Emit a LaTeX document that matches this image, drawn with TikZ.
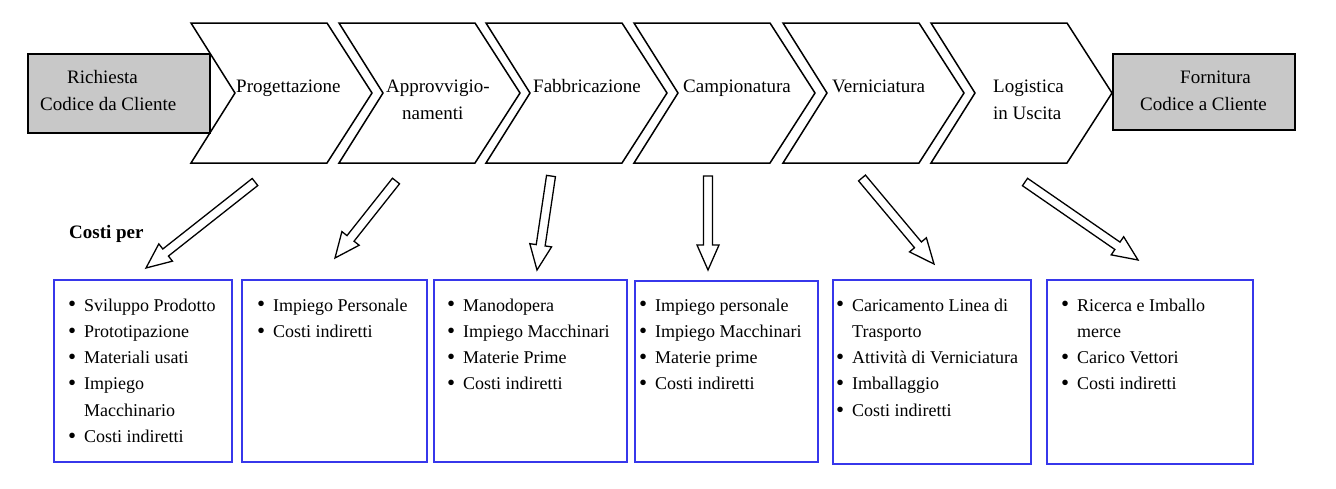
\documentclass[tikz,border=0pt]{standalone}
\usepackage{fontspec}
\setmainfont{Liberation Serif}
\usetikzlibrary{calc}
\definecolor{boxgrey}{RGB}{200,200,200}
\definecolor{listblue}{RGB}{55,55,235}
\newcommand\bul{\llap{\raisebox{-0.8pt}{\fontsize{23}{23}\selectfont\textbullet}\hspace{8pt}}}
\newcommand\chevronat[1]{%
  \draw[chevron] (#1,23) -- ++(136,0) -- ++(45,70) -- ++(-45,70) -- ++(-136,0) -- ++(44,-70) -- cycle;}
\newcommand\blockarr[2]{%
  \draw[blockarrow] ($(#1)!4.5pt!90:(#2)$)
    -- ($(#2)!25pt!(#1)!4.5pt!-90:(#1)$)
    -- ($(#2)!25pt!(#1)!11pt!-90:(#1)$)
    -- (#2)
    -- ($(#2)!25pt!(#1)!11pt!90:(#1)$)
    -- ($(#2)!25pt!(#1)!4.5pt!90:(#1)$)
    -- ($(#1)!4.5pt!-90:(#2)$) -- cycle;}
\tikzset{
  chevron/.style={draw=black, line width=1.5pt, fill=white, line join=miter},
  greybox/.style={draw=black, line width=1.6pt, fill=boxgrey, inner sep=0pt, anchor=north west},
  listbox/.style={draw=listblue, line width=1.6pt, inner sep=0pt, anchor=north west},
  blockarrow/.style={draw=black, line width=1.3pt, fill=white, line join=miter},
  toptext/.style={anchor=base west, inner sep=0pt, font=\fontsize{19}{27.5}\selectfont},
  listtext/.style={anchor=base west, inner sep=0pt, font=\fontsize{18}{26.3}\selectfont},
}
\begin{document}
\begin{tikzpicture}[x=1pt,y=-1pt]
\useasboundingbox (0,0) rectangle (1336,488);
% chevrons
\foreach \s in {191,339,486,634,783,931} {\chevronat{\s}}
% grey boxes
\node[greybox, minimum width=182pt, minimum height=79pt] (src) at (27,53) {};
\node[greybox, minimum width=182pt, minimum height=76pt] (dst) at (1112,53) {};
\node[toptext] (srct) at (40,83) {\begin{tabular}[t]{@{}l@{}}\hspace*{27pt}Richiesta\\Codice da Cliente\end{tabular}};
\node[toptext] (dstt) at (1140,83) {\begin{tabular}[t]{@{}l@{}}\hspace*{40pt}Fornitura\\Codice a Cliente\end{tabular}};
% chevron labels
\node[toptext] (c1) at (236,92) {Progettazione};
\node[toptext] (c2) at (386,92) {\begin{tabular}[t]{@{}l@{}}Approvvigio-\\\hspace*{16pt}namenti\end{tabular}};
\node[toptext] (c3) at (533,92) {Fabbricazione};
\node[toptext] (c4) at (683,92) {Campionatura};
\node[toptext] (c5) at (832,92) {Verniciatura};
\node[toptext] (c6) at (993,92) {\begin{tabular}[t]{@{}l@{}}Logistica\\in Uscita\end{tabular}};
% Costi per
\node[anchor=base west, inner sep=0pt, font=\fontsize{19}{23}\selectfont\bfseries] (cp) at (69,238) {Costi per};
% list boxes
\node[listbox, minimum width=178pt, minimum height=182pt] (b1) at (53,279) {};
\node[listbox, minimum width=185pt, minimum height=182pt] (b2) at (241,279) {};
\node[listbox, minimum width=193pt, minimum height=182pt] (b3) at (433,279) {};
\node[listbox, minimum width=183pt, minimum height=181pt] (b4) at (634,280) {};
\node[listbox, minimum width=198pt, minimum height=184pt] (b5) at (832,279) {};
\node[listbox, minimum width=206pt, minimum height=184pt] (b6) at (1046,279) {};
% list texts
\node[listtext] (l1) at (84,311) {\begin{tabular}[t]{@{}l@{}}\bul Sviluppo Prodotto\\\bul Prototipazione\\\bul Materiali usati\\\bul Impiego\\Macchinario\\\bul Costi indiretti\end{tabular}};
\node[listtext] (l2) at (273,311) {\begin{tabular}[t]{@{}l@{}}\bul Impiego Personale\\\bul Costi indiretti\end{tabular}};
\node[listtext] (l3) at (463,311) {\begin{tabular}[t]{@{}l@{}}\bul Manodopera\\\bul Impiego Macchinari\\\bul Materie Prime\\\bul Costi indiretti\end{tabular}};
\node[listtext] (l4) at (655,311) {\begin{tabular}[t]{@{}l@{}}\bul Impiego personale\\\bul Impiego Macchinari\\\bul Materie prime\\\bul Costi indiretti\end{tabular}};
\node[listtext] (l5) at (852,311) {\begin{tabular}[t]{@{}l@{}}\bul Caricamento Linea di\\Trasporto\\\bul Attività di Verniciatura\\\bul Imballaggio\\\bul Costi indiretti\end{tabular}};
\node[listtext] (l6) at (1077,311) {\begin{tabular}[t]{@{}l@{}}\bul Ricerca e Imballo\\merce\\\bul Carico Vettori\\\bul Costi indiretti\end{tabular}};
% arrows
\coordinate (t1) at (255,182); \coordinate (h1) at (146,268);
\coordinate (t2) at (396,181); \coordinate (h2) at (335,258);
\coordinate (t3) at (551,176); \coordinate (h3) at (537,270);
\coordinate (t4) at (708,176); \coordinate (h4) at (708,270);
\coordinate (t5) at (862,178); \coordinate (h5) at (934,264);
\coordinate (t6) at (1025,182); \coordinate (h6) at (1138,260);
\blockarr{t1}{h1}
\blockarr{t2}{h2}
\blockarr{t3}{h3}
\blockarr{t4}{h4}
\blockarr{t5}{h5}
\blockarr{t6}{h6}
\end{tikzpicture}
\end{document}
